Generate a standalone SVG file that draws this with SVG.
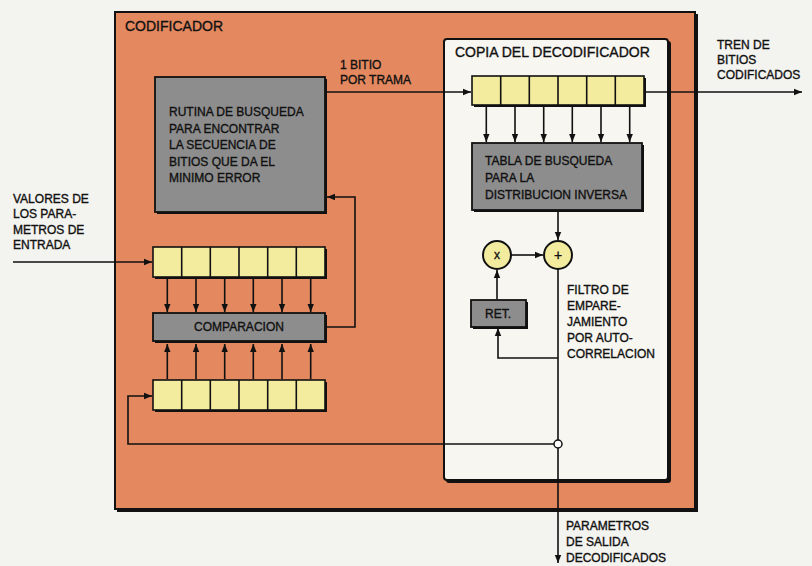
<svg xmlns="http://www.w3.org/2000/svg" width="812" height="566" viewBox="0 0 812 566">
<style>
text{font-family:"Liberation Sans",Arial,sans-serif;font-size:12px;fill:#111;stroke:#111;stroke-width:0.35}
.t{font-size:14px}
.cell{fill:#F3EC9E;stroke:#111;stroke-width:1.6}
.div{stroke:#111;stroke-width:1.6}
.gray{fill:#8D8D8D;stroke:#111;stroke-width:1.8}
.sh{fill:#111}
.c{fill:none;stroke:#111;stroke-width:1.6}
.circ{fill:#F3EC9E;stroke:#111;stroke-width:2}
</style>
<defs>
<marker id="a" viewBox="0 0 10 10" refX="10" refY="5" markerWidth="8" markerHeight="8" markerUnits="userSpaceOnUse" orient="auto"><path d="M0,1 L10,5 L0,9 z" fill="#111"/></marker>
</defs>
<rect width="812" height="566" fill="#F3F3EF"/>
<g id="codificador">
<rect x="117" y="14" width="581" height="498" class="sh"/>
<rect x="115" y="12" width="580" height="497" fill="#E3885F" stroke="#111" stroke-width="2"/>
<text x="125" y="31" class="t">CODIFICADOR</text>
</g>
<g id="copia">
<rect x="446" y="41" width="225" height="442" rx="3" class="sh"/>
<rect x="444" y="39" width="224" height="441" rx="3" fill="#F7F6F0" stroke="#111" stroke-width="2"/>
<text x="455" y="57" class="t">COPIA DEL DECODIFICADOR</text>
</g>
<g id="rutina">
<rect x="157" y="79" width="170" height="135" class="sh"/>
<rect x="155" y="77" width="170" height="135" class="gray"/>
<text x="169" y="116">RUTINA DE BUSQUEDA</text>
<text x="169" y="133">PARA ENCONTRAR</text>
<text x="169" y="149">LA SECUENCIA DE</text>
<text x="169" y="166">BITIOS QUE DA EL</text>
<text x="169" y="182">MINIMO ERROR</text>
</g>
<g id="reg-entrada">
<rect x="155" y="249" width="172" height="30" class="sh"/>
<rect x="153" y="247" width="172" height="30" class="cell"/>
<path class="div" d="M181.7,247V277M210.3,247V277M239,247V277M267.7,247V277M296.3,247V277"/>
</g>
<g id="comparacion">
<rect x="155" y="315" width="172" height="28" class="sh"/>
<rect x="153" y="313" width="172" height="28" class="gray"/>
<text x="239" y="331" text-anchor="middle">COMPARACION</text>
</g>
<g id="reg-prueba">
<rect x="155" y="382" width="172" height="30" class="sh"/>
<rect x="153" y="380" width="172" height="30" class="cell"/>
<path class="div" d="M181.7,380V410M210.3,380V410M239,380V410M267.7,380V410M296.3,380V410"/>
</g>
<g id="reg-decod">
<rect x="474" y="78" width="172" height="29" class="sh"/>
<rect x="472" y="76" width="172" height="29" class="cell"/>
<path class="div" d="M500.7,76V105M529.3,76V105M558,76V105M586.7,76V105M615.3,76V105"/>
</g>
<g id="tabla">
<rect x="474" y="145" width="170" height="67" class="sh"/>
<rect x="472" y="143" width="170" height="67" class="gray"/>
<text x="485" y="165">TABLA DE BUSQUEDA</text>
<text x="485" y="182">PARA LA</text>
<text x="485" y="199">DISTRIBUCION INVERSA</text>
</g>
<g id="mult">
<circle cx="497" cy="255" r="14" class="circ"/>
<text x="497" y="259" text-anchor="middle">x</text>
</g>
<g id="suma">
<circle cx="558" cy="255" r="14" class="circ"/>
<text x="558" y="260" text-anchor="middle" style="font-size:14px">+</text>
</g>
<g id="ret">
<rect x="473" y="302" width="55" height="27" class="sh"/>
<rect x="471" y="300" width="55" height="27" class="gray"/>
<text x="498" y="318" text-anchor="middle">RET.</text>
</g>
<g id="labels">
<text x="340" y="69">1 BITIO</text>
<text x="340" y="84">POR TRAMA</text>
<text x="717" y="49">TREN DE</text>
<text x="717" y="64">BITIOS</text>
<text x="717" y="79">CODIFICADOS</text>
<text x="13" y="203">VALORES DE</text>
<text x="13" y="218">LOS PARA-</text>
<text x="13" y="234">METROS DE</text>
<text x="13" y="249">ENTRADA</text>
<text x="567" y="294">FILTRO DE</text>
<text x="567" y="310">EMPARE-</text>
<text x="567" y="326">JAMIENTO</text>
<text x="567" y="342">POR AUTO-</text>
<text x="567" y="358">CORRELACION</text>
<text x="566" y="530">PARAMETROS</text>
<text x="566" y="546">DE SALIDA</text>
<text x="566" y="562">DECODIFICADOS</text>
</g>
<g id="connectors">
<path class="c" marker-end="url(#a)" d="M13,262H152"/>
<path class="c" marker-end="url(#a)" d="M167.3,278V312"/>
<path class="c" marker-end="url(#a)" d="M196,278V312"/>
<path class="c" marker-end="url(#a)" d="M224.7,278V312"/>
<path class="c" marker-end="url(#a)" d="M253.3,278V312"/>
<path class="c" marker-end="url(#a)" d="M282,278V312"/>
<path class="c" marker-end="url(#a)" d="M310.7,278V312"/>
<path class="c" marker-end="url(#a)" d="M167.3,379V344"/>
<path class="c" marker-end="url(#a)" d="M196,379V344"/>
<path class="c" marker-end="url(#a)" d="M224.7,379V344"/>
<path class="c" marker-end="url(#a)" d="M253.3,379V344"/>
<path class="c" marker-end="url(#a)" d="M282,379V344"/>
<path class="c" marker-end="url(#a)" d="M310.7,379V344"/>
<path class="c" marker-end="url(#a)" d="M326,327H355V197H327"/>
<path class="c" marker-end="url(#a)" d="M326,92H471"/>
<path class="c" marker-end="url(#a)" d="M645,92H802"/>
<path class="c" marker-end="url(#a)" d="M486.3,106V142"/>
<path class="c" marker-end="url(#a)" d="M515,106V142"/>
<path class="c" marker-end="url(#a)" d="M543.7,106V142"/>
<path class="c" marker-end="url(#a)" d="M572.3,106V142"/>
<path class="c" marker-end="url(#a)" d="M601,106V142"/>
<path class="c" marker-end="url(#a)" d="M629.7,106V142"/>
<path class="c" marker-end="url(#a)" d="M558,212V240"/>
<path class="c" marker-end="url(#a)" d="M511,255H543"/>
<path class="c" marker-end="url(#a)" d="M497,299V270"/>
<path class="c" marker-end="url(#a)" d="M558,358H498V328"/>
<path class="c" d="M558,269V440"/>
<path class="c" marker-end="url(#a)" d="M558,448V563"/>
<path class="c" marker-end="url(#a)" d="M554,444H128V396H152"/>
<circle cx="558" cy="444" r="4" fill="#fff" stroke="#111" stroke-width="1.5"/>
</g>
</svg>
